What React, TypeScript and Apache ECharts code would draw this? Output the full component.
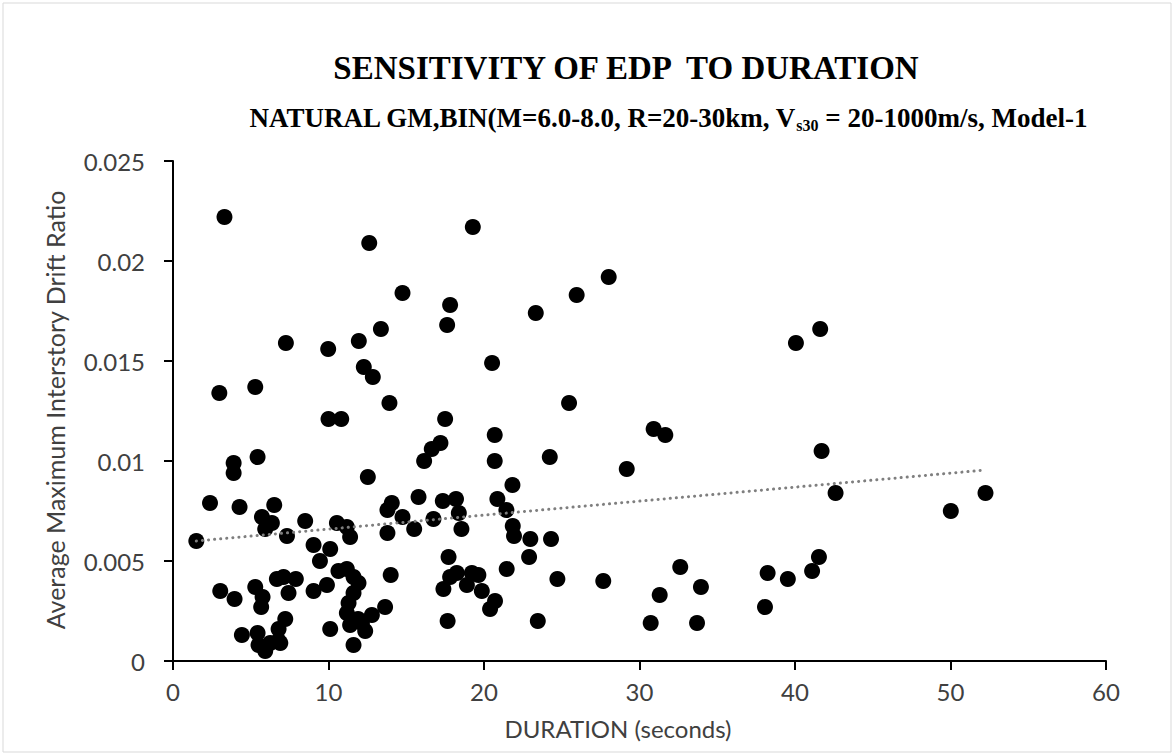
import React, { useEffect, useRef } from "react";
import * as echarts from "echarts";

// Duration (s) and Average Maximum Interstory Drift Ratio
const durations: number[] = [
  3.31, 12.62, 19.28, 14.76, 17.82, 17.63, 13.37, 11.95, 7.26, 9.98,
  12.27, 12.85, 2.98, 5.29, 13.92, 28.02, 25.96, 23.33, 20.52, 25.47,
  40.06, 41.62, 41.71, 42.61, 50.02, 52.25, 41.54, 38.24, 39.54, 41.1, 38.07,
  17.5, 17.2, 20.69, 20.69, 24.23, 29.18, 30.91, 31.66, 21.83, 17.35,
  18.2, 20.86, 18.38, 21.44, 18.55, 21.85, 21.93, 22.98, 24.31, 22.9,
  17.72, 21.46, 24.72, 27.67, 32.62, 33.95, 31.3, 30.72, 33.7, 23.46,
  17.66, 17.39, 17.82, 18.25, 18.9, 19.22, 19.64, 19.86, 20.71, 20.39,
  1.5, 2.38, 3.9, 3.9, 5.44, 4.28, 6.51, 5.72, 6.36, 5.93,
  7.33, 8.5, 10.0, 10.82, 16.64, 16.15, 12.53, 15.79, 14.07, 13.79,
  14.76, 15.51, 13.79, 16.75, 10.54, 11.18, 11.39, 9.04, 10.11, 9.45,
  10.64, 11.18, 11.61, 11.93, 11.61, 11.29, 11.18, 11.39, 12.15, 12.36,
  11.61, 12.79, 13.64, 14.0, 10.11, 9.9, 9.04, 11.9,
  3.04, 3.96, 5.29, 5.76, 5.67, 6.68, 7.11, 7.9, 7.43, 7.22,
  6.79, 6.79, 4.43, 5.44, 5.5, 5.93, 6.25, 6.9,
];
const driftRatios: number[] = [
  0.0222, 0.0209, 0.0217, 0.0184, 0.0178, 0.0168, 0.0166, 0.016, 0.0159, 0.0156,
  0.0147, 0.0142, 0.0134, 0.0137, 0.0129, 0.0192, 0.0183, 0.0174, 0.0149, 0.0129,
  0.0159, 0.0166, 0.0105, 0.0084, 0.0075, 0.0084, 0.0052, 0.0044, 0.0041, 0.0045, 0.0027,
  0.0121, 0.0109, 0.0113, 0.01, 0.0102, 0.0096, 0.0116, 0.0113, 0.0088, 0.008,
  0.0081, 0.0081, 0.0074, 0.00755, 0.0066, 0.00675, 0.00625, 0.0061, 0.0061, 0.0052,
  0.0052, 0.0046, 0.0041, 0.004, 0.0047, 0.0037, 0.0033, 0.0019, 0.0019, 0.002,
  0.002, 0.0036, 0.0042, 0.0044, 0.0038, 0.0044, 0.0043, 0.0035, 0.003, 0.0026,
  0.006, 0.0079, 0.0099, 0.0094, 0.0102, 0.0077, 0.0078, 0.0072, 0.0069, 0.0066,
  0.00625, 0.007, 0.0121, 0.0121, 0.0106, 0.01, 0.0092, 0.0082, 0.0079, 0.00755,
  0.0072, 0.0066, 0.0064, 0.0071, 0.0069, 0.0067, 0.0062, 0.0058, 0.0056, 0.005,
  0.0045, 0.0046, 0.0042, 0.0039, 0.0034, 0.0029, 0.0024, 0.0018, 0.0019, 0.0015,
  0.0008, 0.0023, 0.0027, 0.0043, 0.0016, 0.0038, 0.0035, 0.0021,
  0.0035, 0.0031, 0.0037, 0.0032, 0.0027, 0.0041, 0.0042, 0.0041, 0.0034, 0.0021,
  0.0016, 0.001, 0.0013, 0.0014, 0.0008, 0.0005, 0.0009, 0.0009,
];

// Linear trendline end points
const trendX: number[] = [1.5, 52.25];
const trendY: number[] = [0.006, 0.00955];

const xTicks = { min: 0, max: 60, interval: 10 };
const yTicks = { min: 0, max: 0.025, interval: 0.005 };

const titleText = "SENSITIVITY OF EDP  TO DURATION";
const subtitleParts = ["NATURAL GM,BIN(M=6.0-8.0, R=20-30km, V", "s30", " = 20-1000m/s, Model-1"];
const xName = "DURATION (seconds)";
const yName = "Average Maximum Interstory Drift Ratio";

export default function App() {
  const ref = useRef<HTMLDivElement>(null);
  useEffect(() => {
    if (!ref.current) return;
    const chart = echarts.init(ref.current, null, { renderer: "svg" });
    const labelFont = "Lato";
    const serif = "Liberation Serif";
    chart.setOption({
      animation: false,
      backgroundColor: "#ffffff",
      grid: { left: 173, right: 69, top: 161, bottom: 95, containLabel: false },
      xAxis: {
        type: "value",
        min: xTicks.min,
        max: xTicks.max,
        interval: xTicks.interval,
        axisLine: { show: true, lineStyle: { color: "#000000", width: 2 } },
        axisTick: { show: true, inside: false, length: 9, lineStyle: { color: "#000000", width: 2 } },
        splitLine: { show: false },
        axisLabel: { color: "#404040", fontSize: 24, fontFamily: labelFont, margin: 18 },
      },
      yAxis: {
        type: "value",
        min: yTicks.min,
        max: yTicks.max,
        interval: yTicks.interval,
        axisLine: { show: true, lineStyle: { color: "#000000", width: 2 } },
        axisTick: { show: true, inside: false, length: 9, lineStyle: { color: "#000000", width: 2 } },
        splitLine: { show: false },
        axisLabel: {
          color: "#404040",
          fontSize: 24,
          fontFamily: labelFont,
          margin: 28,
          formatter: (v: number) => String(parseFloat(v.toFixed(4))),
        },
      },
      graphic: [
        {
          type: "rect",
          shape: { x: 3, y: 3, width: 1168, height: 749 },
          style: { fill: "none", stroke: "#d9d9d9", lineWidth: 1 },
          silent: true,
        },
        {
          type: "text",
          x: 626,
          y: 68,
          style: {
            text: titleText,
            fill: "#000000",
            font: `bold 33px "${serif}"`,
            align: "center",
            verticalAlign: "middle",
          },
        },
        {
          type: "text",
          x: 668,
          y: 118,
          style: {
            text: `{a|${subtitleParts[0]}}{s|${subtitleParts[1]}}{a|${subtitleParts[2]}}`,
            align: "center",
            verticalAlign: "middle",
            rich: {
              a: { fontSize: 27, fontWeight: "bold", fontFamily: serif, fill: "#000000", lineHeight: 30 },
              s: { fontSize: 16, fontWeight: "bold", fontFamily: serif, fill: "#000000", lineHeight: 16, verticalAlign: "bottom" },
            },
          },
        },
        {
          type: "text",
          x: 618,
          y: 728,
          style: {
            text: xName,
            fill: "#404040",
            font: `24px "${labelFont}"`,
            align: "center",
            verticalAlign: "middle",
          },
        },
        {
          type: "text",
          x: 55,
          y: 410,
          rotation: Math.PI / 2,
          style: {
            text: yName,
            fill: "#404040",
            font: `25px "${labelFont}"`,
            align: "center",
            verticalAlign: "middle",
          },
        },
      ],
      series: [
        {
          type: "line",
          data: trendX.map((x, i) => [x, trendY[i]]),
          symbol: "none",
          lineStyle: { color: "#7f7f7f", width: 3, type: [0.1, 6], cap: "round" },
          z: 3,
          silent: true,
        },
        {
          type: "scatter",
          data: durations.map((x, i) => [x, driftRatios[i]]),
          symbol: "circle",
          symbolSize: 16,
          itemStyle: { color: "#000000", opacity: 1 },
          z: 2,
        },
      ],
    });
    return () => chart.dispose();
  }, []);
  return (
    <div
      ref={ref}
      style={{ position: "absolute", left: 0, top: 0, width: 1175, height: 756 }}
    />
  );
}
